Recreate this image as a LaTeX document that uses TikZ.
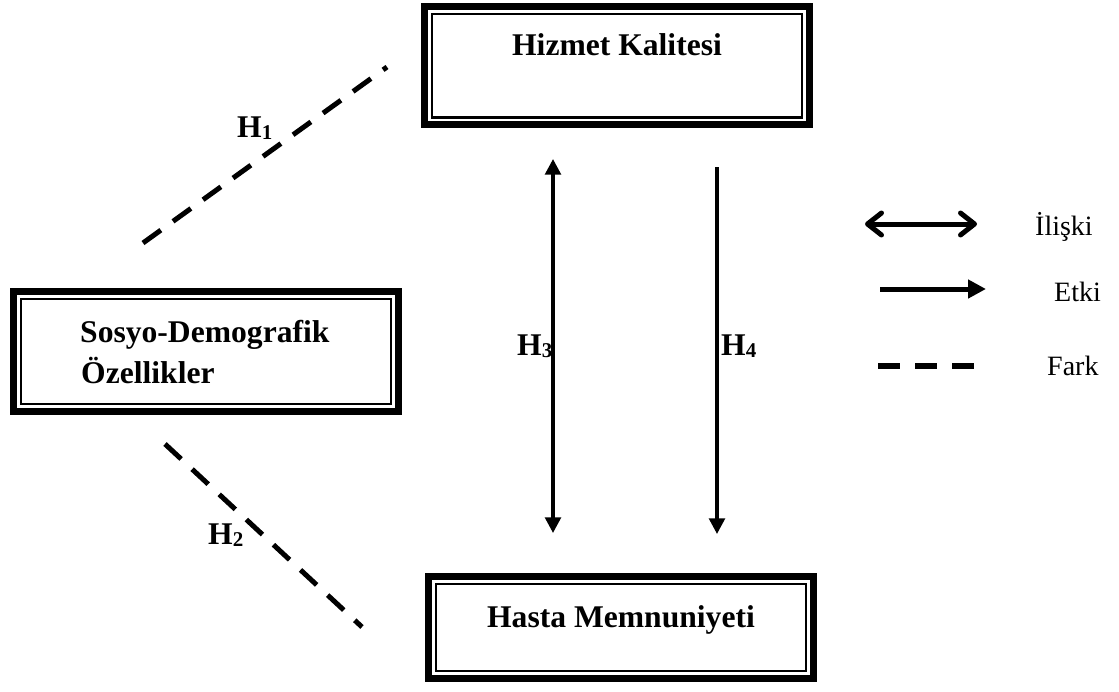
\documentclass[tikz,border=0pt]{standalone}
\usepackage{fontspec}
\setmainfont{Liberation Serif}
\usetikzlibrary{arrows.meta}
\begin{document}
\begin{tikzpicture}[x=1pt,y=-1pt,
  box/.style={draw, line width=7pt, outer sep=0pt, inner sep=0pt, minimum width=385pt},
  innerline/.style={line width=2.3pt},
  boxtext/.style={font=\fontsize{31.6}{41.6}\selectfont\bfseries, inner sep=0pt, anchor=base},
  boxtextl/.style={font=\fontsize{31.6}{41.6}\selectfont\bfseries, inner sep=0pt, anchor=base west},
  hlabel/.style={font=\fontsize{31.6}{38}\selectfont\bfseries, inner sep=0pt, anchor=base west},
  legtext/.style={font=\fontsize{28}{34}\selectfont, inner sep=0pt, anchor=base west},
  farkline/.style={line width=5pt, dash pattern=on 22pt off 15pt},
  relarrow/.style={line width=3.5pt, -{Triangle[length=15.7pt,width=15.7pt]}},
  relboth/.style={line width=3.5pt, {Triangle[length=15.7pt,width=15.7pt]}-{Triangle[length=15.7pt,width=15.7pt]}},
]
\useasboundingbox (0,0) rectangle (1119,691);
\newcommand{\hsub}[1]{H\raisebox{-2pt}{\fontsize{21}{21}\selectfont #1}}

% boxes
\node[box, minimum height=118pt] (hk) at (617,65.8) {};
\draw[innerline] ([shift={(7.35,7.35)}]hk.north west) rectangle ([shift={(-7.35,-7.35)}]hk.south east);
\node[box, minimum height=119.7pt] (sd) at (206,351.7) {};
\draw[innerline] ([shift={(7.35,7.35)}]sd.north west) rectangle ([shift={(-7.35,-7.35)}]sd.south east);
\node[box, minimum height=101.4pt] (hm) at (621,627.5) {};
\draw[innerline] ([shift={(7.35,7.35)}]hm.north west) rectangle ([shift={(-7.35,-7.35)}]hm.south east);

% box texts
\node[boxtext] (hkt) at (617,55) {Hizmet Kalitesi};
\node[boxtextl] (sdt1) at (80,342) {Sosyo-Demografik};
\node[boxtextl] (sdt2) at (81,383.5) {Özellikler};
\node[boxtext] (hmt) at (621,627) {Hasta Memnuniyeti};

% dashed lines
\coordinate (h1a) at (143,243);
\coordinate (h1b) at (387,67);
\coordinate (h2a) at (165,444);
\coordinate (h2b) at (362,627);
\draw[farkline] (h1a) -- (h1b);
\draw[farkline] (h2a) -- (h2b);

% vertical arrows
\coordinate (h3a) at (553,159);
\coordinate (h3b) at (553,533);
\coordinate (h4a) at (717,167);
\coordinate (h4b) at (717,534);
\draw[relboth] (h3a) -- (h3b);
\draw[relarrow] (h4a) -- (h4b);

% labels
\node[hlabel] (l1) at (237,137) {\hsub{1}};
\node[hlabel] (l2) at (208,544) {\hsub{2}};
\node[hlabel] (l3) at (517,355) {\hsub{3}};
\node[hlabel] (l4) at (721,355) {\hsub{4}};

% legend
\coordinate (lg1a) at (865,224);
\coordinate (lg1b) at (977,224);
\draw[line width=5pt, line cap=round,
  {Straight Barb[length=14pt,width=22pt,line cap=round,line join=round]}-{Straight Barb[length=14pt,width=22pt,line cap=round,line join=round]}]
  (lg1a) -- (lg1b);
\coordinate (lg2a) at (880,289);
\coordinate (lg2b) at (986,289);
\draw[line width=5pt, -{Triangle[length=18pt,width=18pt]}] (lg2a) -- (lg2b);
\coordinate (lg3a) at (878,366);
\coordinate (lg3b) at (974,366);
\draw[line width=6pt, dash pattern=on 22pt off 15pt] (lg3a) -- (lg3b);

\node[legtext] (t1) at (1035,235) {İlişki};
\node[legtext] (t2) at (1054,301) {Etki};
\node[legtext] (t3) at (1047,375) {Fark};
\end{tikzpicture}
\end{document}
